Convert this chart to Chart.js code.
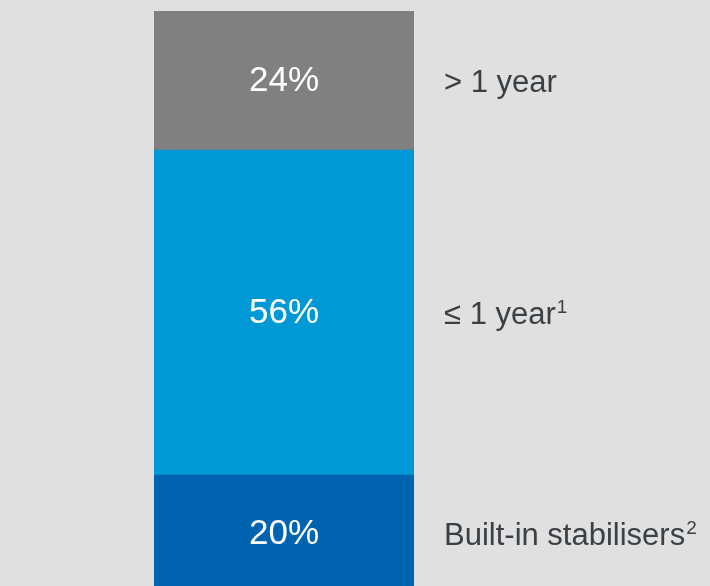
<!DOCTYPE html>
<html>
<head>
<meta charset="utf-8">
<script src="https://cdn.jsdelivr.net/npm/chart.js@4/dist/chart.umd.min.js"></script>
<style>
  html, body { margin: 0; padding: 0; background: #e0e0e0; overflow: hidden; }
  #wrap { width: 710px; height: 586px; overflow: hidden; position: relative; }
  canvas { display: block; }
</style>
</head>
<body>
<div id="wrap"><canvas id="c" width="710" height="591"></canvas></div>
<script>
// Stacked composition, bottom to top
const categories = ['Built-in stabilisers', '\u2264 1 year', '> 1 year'];
const footnotes = ['2', '1', ''];
const shares = [20, 56, 24];
const segmentColors = ['#0063b0', '#0098d5', '#808080'];

const FONT = '"Liberation Sans", Arial, Helvetica, sans-serif';

const labelPlugin = {
  id: 'segmentLabels',
  afterDatasetsDraw(chart) {
    const ctx = chart.ctx;
    ctx.save();
    chart.data.datasets.forEach((ds, i) => {
      const bar = chart.getDatasetMeta(i).data[0];
      if (!bar) return;
      const mid = (bar.y + bar.base) / 2;
      // value inside the segment
      ctx.fillStyle = '#ffffff';
      ctx.font = '35px ' + FONT;
      ctx.textAlign = 'center';
      ctx.textBaseline = 'middle';
      ctx.fillText(ds.data[0] + '%', bar.x, mid + 1);
      // category name to the right
      ctx.fillStyle = '#3b4045';
      ctx.font = '31px ' + FONT;
      ctx.textAlign = 'left';
      ctx.textBaseline = 'alphabetic';
      const baseY = mid + 11.5;
      const x0 = 444;
      ctx.fillText(ds.label, x0, baseY);
      const note = footnotes[i];
      if (note) {
        const w = ctx.measureText(ds.label).width;
        ctx.font = '19px ' + FONT;
        ctx.fillText(note, x0 + w + 1, baseY - 11);
      }
    });
    ctx.restore();
  }
};

new Chart(document.getElementById('c'), {
  type: 'bar',
  data: {
    labels: [''],
    datasets: categories.map((name, i) => ({
      label: name,
      data: [shares[i]],
      backgroundColor: segmentColors[i],
      borderWidth: 0,
      categoryPercentage: 1,
      barPercentage: 1
    }))
  },
  options: {
    responsive: false,
    animation: false,
    devicePixelRatio: 1,
    layout: { padding: { left: 154, right: 296, top: 11, bottom: 0 } },
    plugins: { legend: { display: false }, tooltip: { enabled: false } },
    scales: {
      x: { stacked: true, display: false },
      y: { stacked: true, display: false, min: 0, max: 100 }
    }
  },
  plugins: [labelPlugin]
});
</script>
</body>
</html>
